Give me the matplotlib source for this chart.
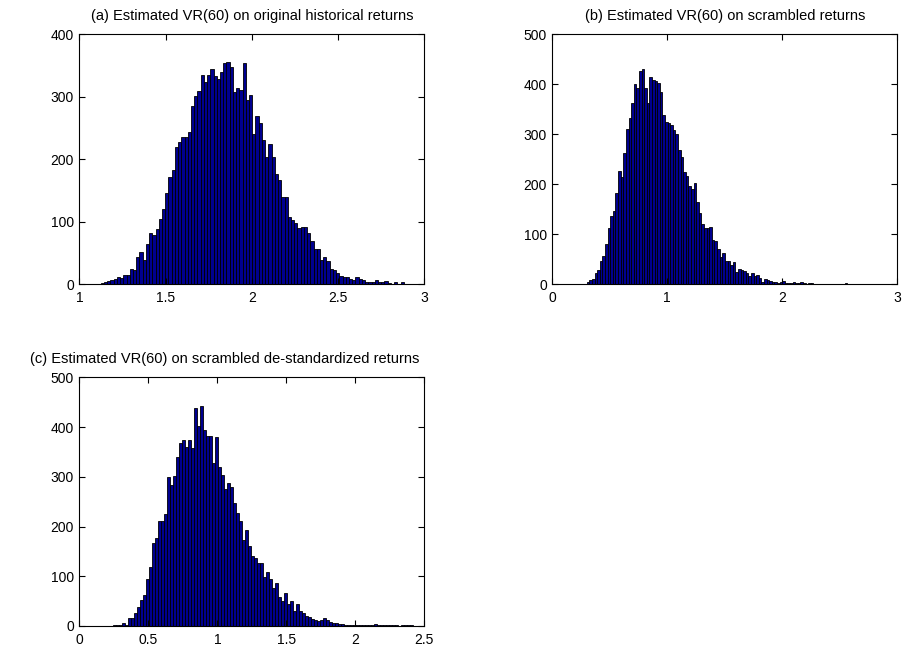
import numpy as np
import matplotlib
matplotlib.use("Agg")
import matplotlib.pyplot as plt

plt.rcParams["font.family"] = ["Liberation Sans", "DejaVu Sans"]
plt.rcParams["font.size"] = 10

# (a) original historical returns: 100-bin histogram counts, range of the bins
counts_a = [1, 1, 0, 1, 1, 2, 3, 5, 7, 8, 11, 10, 15, 15, 25, 23, 44, 51, 39, 64,
            82, 79, 88, 105, 120, 146, 171, 183, 220, 227, 236, 235, 244, 286, 301, 309, 335, 323, 335, 344,
            333, 328, 339, 354, 355, 348, 308, 314, 311, 354, 295, 303, 240, 270, 258, 231, 204, 225, 204, 176,
            167, 140, 140, 108, 103, 98, 90, 92, 91, 82, 69, 56, 56, 39, 44, 38, 24, 23, 18, 13,
            11, 12, 9, 7, 11, 9, 7, 4, 3, 4, 7, 3, 4, 5, 2, 1, 3, 1, 3, 1]
range_a = (1.03, 2.90)

# (b) scrambled returns
counts_b = [5, 9, 10, 22, 29, 47, 57, 81, 113, 137, 147, 182, 227, 215, 262, 311, 333, 362, 401, 393,
            427, 431, 392, 363, 414, 409, 407, 403, 384, 339, 325, 323, 319, 309, 300, 269, 254, 225, 217, 197,
            190, 202, 165, 142, 121, 112, 113, 114, 89, 87, 70, 54, 62, 47, 47, 39, 45, 24, 31, 29,
            27, 22, 17, 22, 17, 19, 12, 5, 10, 9, 7, 5, 5, 3, 5, 7, 3, 2, 3, 4,
            2, 2, 4, 2, 1, 3, 3, 1, 1, 0, 1, 1, 0, 0, 1, 0, 0, 0, 0, 2]
range_b = (0.30, 2.567)

# (c) scrambled de-standardized returns
counts_c = [1, 1, 1, 5, 1, 17, 17, 27, 39, 52, 62, 94, 119, 166, 176, 212, 212, 225, 300, 284,
            302, 339, 367, 374, 359, 373, 357, 438, 403, 442, 395, 381, 381, 328, 379, 319, 304, 275, 287, 280,
            247, 227, 212, 173, 193, 160, 141, 136, 127, 127, 99, 109, 94, 76, 87, 59, 51, 66, 44, 51,
            31, 44, 31, 27, 21, 19, 15, 12, 11, 13, 17, 12, 9, 7, 5, 3, 3, 2, 2, 2,
            1, 1, 1, 1, 2, 1, 2, 3, 1, 1, 1, 1, 1, 1, 1, 0, 1, 1, 1, 1]
range_c = (0.24, 2.42)

titles = [
    "(a) Estimated VR(60) on original historical returns",
    "(b) Estimated VR(60) on scrambled returns",
    "(c) Estimated VR(60) on scrambled de-standardized returns",
]


def draw_hist(ax, counts, rng, xlim, xticks, ylim, yticks, title, title_x=0.5):
    edges = np.linspace(rng[0], rng[1], len(counts) + 1)
    ax.bar(edges[:-1], counts, width=np.diff(edges), align="edge",
           color="#00008F", edgecolor="black", linewidth=0.6)
    ax.set_xlim(*xlim)
    ax.set_ylim(*ylim)
    ax.set_xticks(xticks)
    ax.set_yticks(yticks)
    ax.set_xticklabels([f"{t:g}" for t in xticks])
    ax.tick_params(direction="in", top=True, right=True, length=4, width=0.8,
                   labelsize=10)
    ax.tick_params(axis="x", pad=5)
    ax.tick_params(axis="y", pad=4)
    for s in ax.spines.values():
        s.set_linewidth(0.8)
    ax.set_title(title, fontsize=10.5, pad=10, x=title_x)


def main():
    fig = plt.figure(figsize=(9.04, 6.55), dpi=100)
    ax_a = fig.add_axes([0.0879, 0.566, 0.3814, 0.3817])
    ax_b = fig.add_axes([0.611, 0.566, 0.3814, 0.3817])
    ax_c = fig.add_axes([0.0879, 0.0443, 0.3814, 0.3797])

    draw_hist(ax_a, counts_a, range_a, (1, 3), [1, 1.5, 2, 2.5, 3],
              (0, 400), [0, 100, 200, 300, 400], titles[0])
    draw_hist(ax_b, counts_b, range_b, (0, 3), [0, 1, 2, 3],
              (0, 500), [0, 100, 200, 300, 400, 500], titles[1])
    draw_hist(ax_c, counts_c, range_c, (0, 2.5), [0, 0.5, 1, 1.5, 2, 2.5],
              (0, 500), [0, 100, 200, 300, 400, 500], titles[2], title_x=0.42)

    fig.savefig("out.png", dpi=100)
    plt.close(fig)


if __name__ == "__main__":
    main()
